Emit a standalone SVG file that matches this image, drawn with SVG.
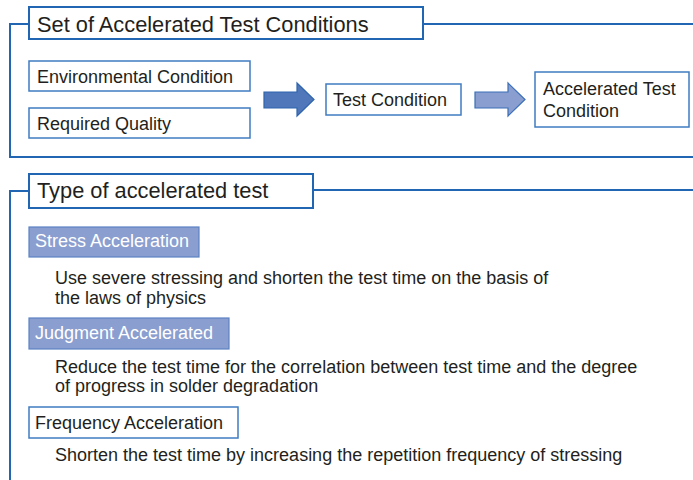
<svg xmlns="http://www.w3.org/2000/svg" width="693" height="480" viewBox="0 0 693 480">
<style>
.frame{fill:none;stroke:#2166b2;stroke-width:2}
.box{fill:#fff;stroke:#3f7cc2;stroke-width:1.5}
.fbox{fill:#8a9ecf;stroke:#5c82c3;stroke-width:1.2}
.t{font-family:"Liberation Sans",Arial,sans-serif;font-size:18px;fill:#231f20}
.w{fill:#fff}
.h{font-size:21.8px}
</style>
<rect width="693" height="480" fill="#fff"/>
<g id="connectors">
<path class="frame" d="M29,24 H10 V157 H693 M423,24 H693"/>
<path class="frame" d="M29,191 H10 V480 M313,190 H693"/>
<path d="M264,92 H297 V83 L314,99.5 L297,116 V108 H264 Z" fill="#4f77b9" stroke="#2f64ad" stroke-width="1.2"/>
<path d="M475,92 H508 V83 L525,99.5 L508,116 V108 H475 Z" fill="#8a9ed0" stroke="#3a6fb8" stroke-width="1.2"/>
</g>
<g id="title1"><rect class="box" x="29" y="7" width="394" height="32" style="stroke-width:2;stroke:#2166b2"/><text class="t h" x="37" y="32">Set of Accelerated Test Conditions</text></g>
<g id="env"><rect class="box" x="29" y="61" width="221" height="30"/><text class="t" x="37" y="83">Environmental Condition</text></g>
<g id="req"><rect class="box" x="29" y="108" width="221" height="30"/><text class="t" x="37" y="130">Required Quality</text></g>
<g id="testcond"><rect class="box" x="326" y="84" width="135" height="31"/><text class="t" x="333" y="106">Test Condition</text></g>
<g id="acccond"><rect class="box" x="535" y="72" width="154" height="55"/><text class="t" x="543" y="95">Accelerated Test</text><text class="t" x="543" y="117">Condition</text></g>
<g id="title2"><rect class="box" x="29" y="174" width="284" height="34" style="stroke-width:2;stroke:#2166b2"/><text class="t h" x="37" y="198">Type of accelerated test</text></g>
<g id="stress"><rect class="fbox" x="29" y="227" width="170" height="30"/><text class="t w" x="35" y="247">Stress Acceleration</text></g>
<g id="stressdesc"><text class="t" x="55" y="284">Use severe stressing and shorten the test time on the basis of</text><text class="t" x="55" y="304">the laws of physics</text></g>
<g id="judg"><rect class="fbox" x="29" y="318" width="200" height="31"/><text class="t w" x="35" y="339">Judgment Accelerated</text></g>
<g id="judgdesc"><text class="t" x="55" y="373">Reduce the test time for the correlation between test time and the degree</text><text class="t" x="55" y="392">of progress in solder degradation</text></g>
<g id="freq"><rect class="box" x="29" y="407" width="209" height="31"/><text class="t" x="35" y="429">Frequency Acceleration</text></g>
<g id="freqdesc"><text class="t" x="55" y="461">Shorten the test time by increasing the repetition frequency of stressing</text></g>
</svg>
